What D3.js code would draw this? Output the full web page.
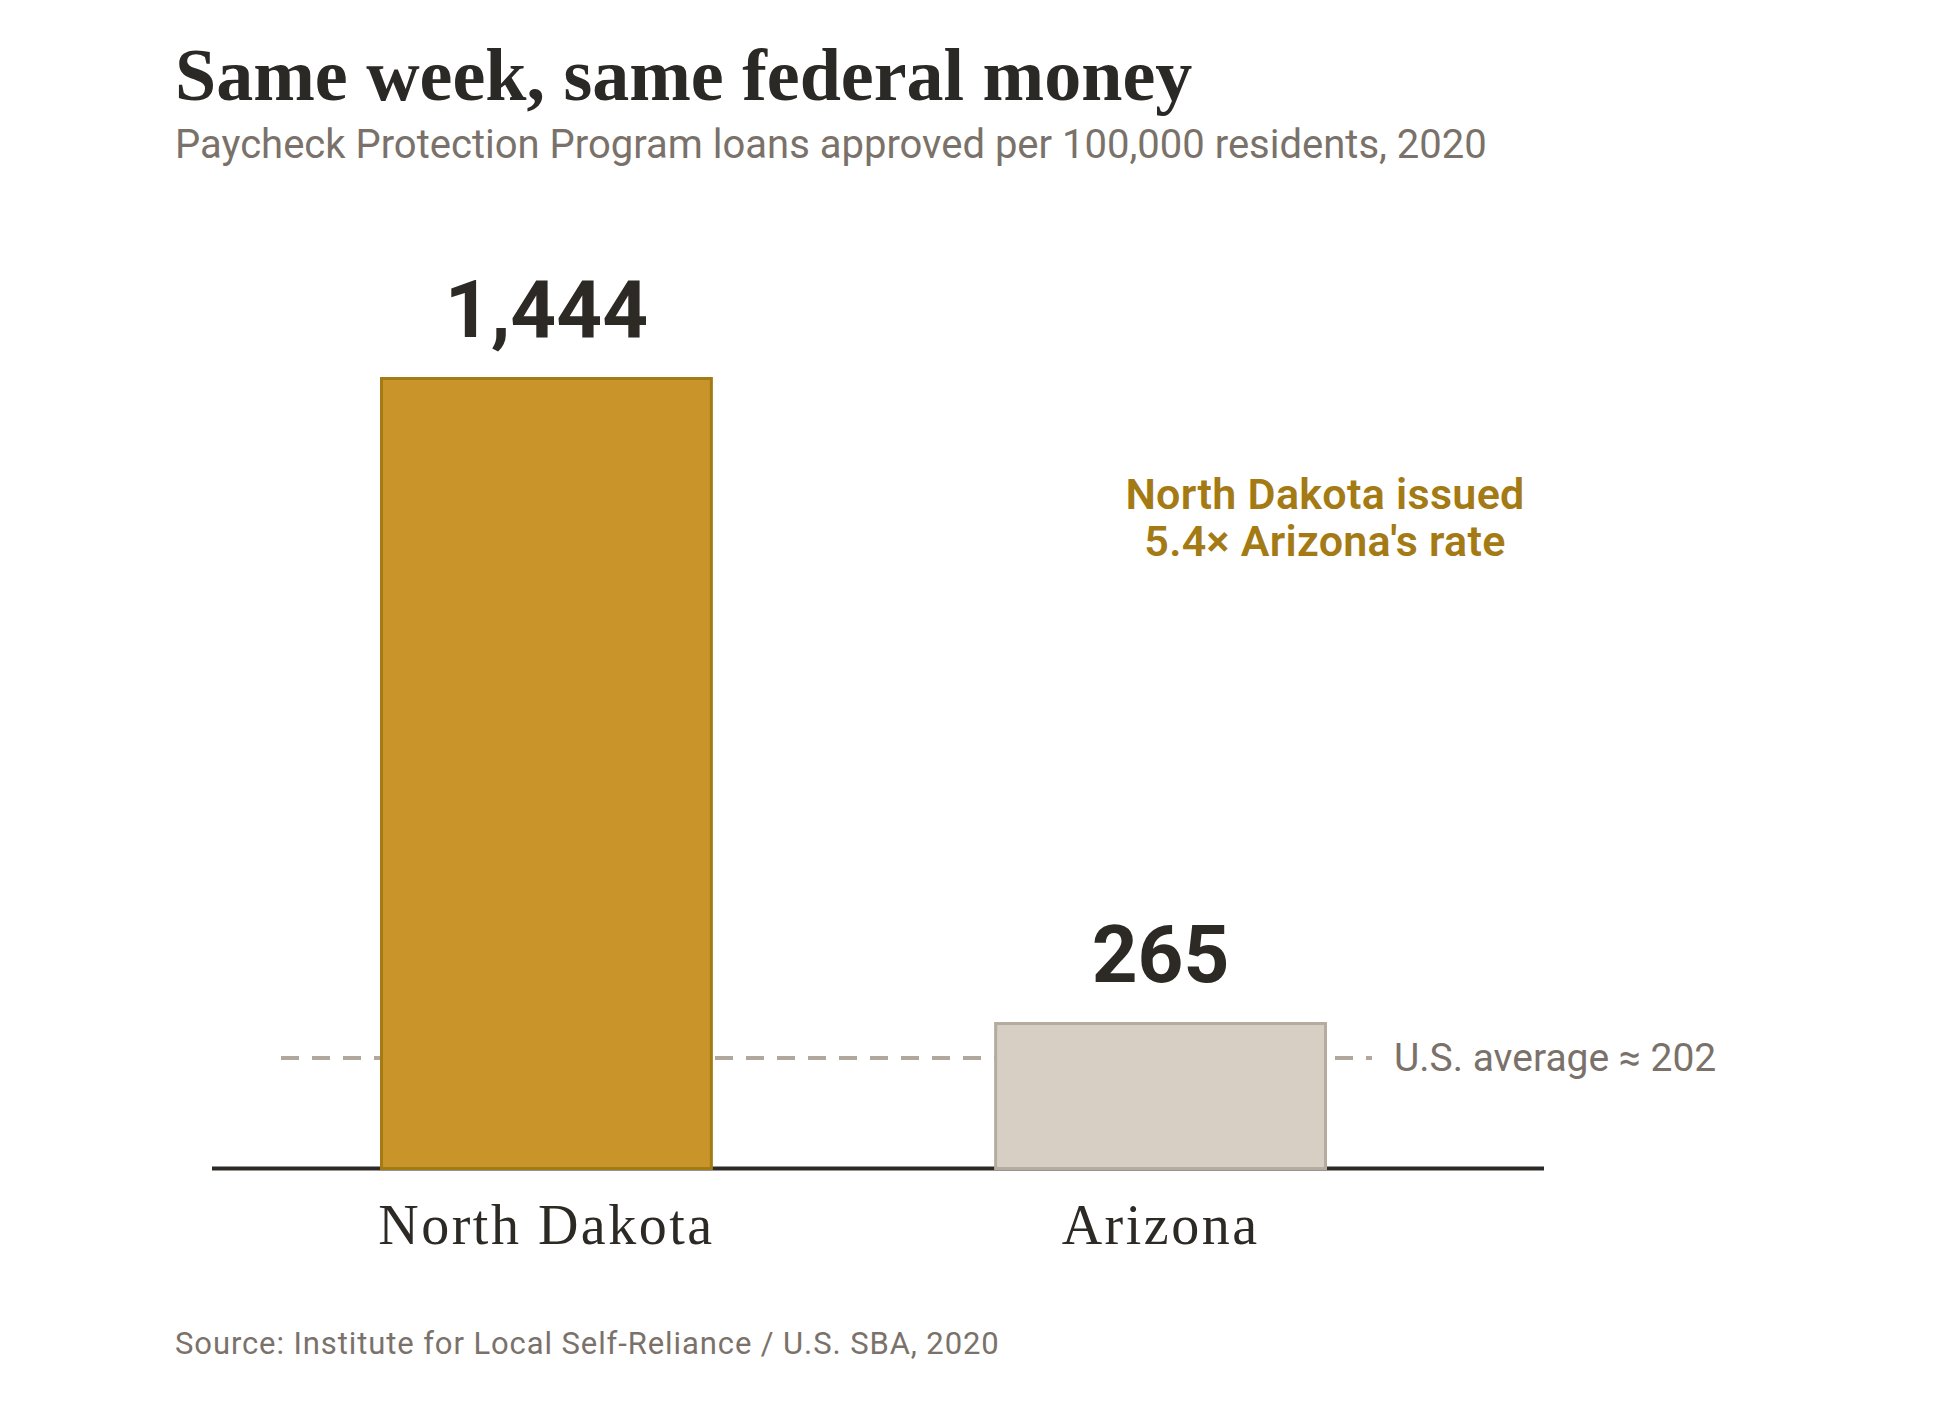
<!DOCTYPE html>
<html>
<head>
<meta charset="utf-8">
<script src="https://cdn.jsdelivr.net/npm/d3@7"></script>
<style>
  body { margin: 0; background: #fff; }
  text { font-family: Roboto, "Open Sans", sans-serif; }
  .serif { font-family: "Liberation Serif", "DejaVu Serif", serif; }
</style>
</head>
<body>
<div id="chart"></div>
<script>
// data
var states = ["North Dakota", "Arizona"];
var loansPer100k = [1444, 265];
var valueLabels = ["1,444", "265"];
var usAverage = 202;
var avgLabel = "U.S. average \u2248 202";
var noteLines = ["North Dakota issued", "5.4\u00d7 Arizona's rate"];

var svgWidth = 1955;
var svgHeight = 1410;

var svg = d3.select("#chart")
  .append("svg")
  .attr("width", svgWidth)
  .attr("height", svgHeight);

// scales
var x = d3.scaleBand()
  .domain(states)
  .range([380, 1327])
  .paddingInner(0.458)
  .paddingOuter(0);

var y = d3.scaleLinear()
  .domain([0, 1444])
  .range([1168.5, 378.5]);

var fills = ["#C9952A", "#D7CFC4"];
var strokes = ["#A37A14", "#B5AC9F"];

// title + subtitle
svg.append("text")
  .attr("class", "serif")
  .attr("x", 175)
  .attr("y", 100)
  .attr("font-size", 74)
  .attr("font-weight", "bold")
  .attr("fill", "#2B2925")
  .text("Same week, same federal money");

svg.append("text")
  .attr("x", 175)
  .attr("y", 158)
  .attr("font-size", 40)
  .attr("fill", "#7A726A")
  .text("Paycheck Protection Program loans approved per 100,000 residents, 2020");

// average line (dashed, behind bars)
svg.append("line")
  .attr("x1", 281)
  .attr("x2", 1372)
  .attr("y1", y(usAverage))
  .attr("y2", y(usAverage))
  .attr("stroke", "#B0A89C")
  .attr("stroke-width", 4)
  .attr("stroke-dasharray", "18,13");

svg.append("text")
  .attr("x", 1394)
  .attr("y", y(usAverage) + 13)
  .attr("font-size", 39)
  .attr("fill", "#7A726A")
  .text(avgLabel);

// baseline
svg.append("line")
  .attr("x1", 212)
  .attr("x2", 1544)
  .attr("y1", y(0))
  .attr("y2", y(0))
  .attr("stroke", "#2D2A26")
  .attr("stroke-width", 4);

// bars
svg.selectAll("rect.bar")
  .data(states)
  .enter()
  .append("rect")
  .attr("class", "bar")
  .attr("x", d => x(d) + 1.5)
  .attr("width", x.bandwidth() - 3)
  .attr("y", (d, i) => y(loansPer100k[i]))
  .attr("height", (d, i) => y(0) - y(loansPer100k[i]))
  .attr("fill", (d, i) => fills[i])
  .attr("stroke", (d, i) => strokes[i])
  .attr("stroke-width", 3);

// value labels
svg.selectAll("text.value")
  .data(states)
  .enter()
  .append("text")
  .attr("class", "value")
  .attr("x", d => x(d) + x.bandwidth() / 2)
  .attr("y", (d, i) => y(loansPer100k[i]) - 42)
  .attr("text-anchor", "middle")
  .attr("font-size", 80)
  .attr("font-weight", "bold")
  .attr("fill", "#2D2A26")
  .text((d, i) => valueLabels[i]);

// category labels
svg.selectAll("text.cat")
  .data(states)
  .enter()
  .append("text")
  .attr("class", "cat serif")
  .attr("x", d => x(d) + x.bandwidth() / 2)
  .attr("y", 1244)
  .attr("text-anchor", "middle")
  .attr("font-size", 56)
  .attr("letter-spacing", 2.5)
  .attr("fill", "#2D2A26")
  .text(d => d);

// annotation
var note = svg.append("text")
  .attr("x", 1325)
  .attr("y", 509)
  .attr("text-anchor", "middle")
  .attr("font-size", 43)
  .attr("letter-spacing", 0.3)
  .attr("font-weight", 600)
  .attr("fill", "#A37A14");

note.selectAll("tspan")
  .data(noteLines)
  .enter()
  .append("tspan")
  .attr("x", 1325)
  .attr("dy", (d, i) => i === 0 ? 0 : 47)
  .text(d => d);

// source
svg.append("text")
  .attr("x", 175)
  .attr("y", 1354)
  .attr("font-size", 31)
  .attr("letter-spacing", 0.9)
  .attr("fill", "#7A726A")
  .text("Source: Institute for Local Self-Reliance / U.S. SBA, 2020");
</script>
</body>
</html>
